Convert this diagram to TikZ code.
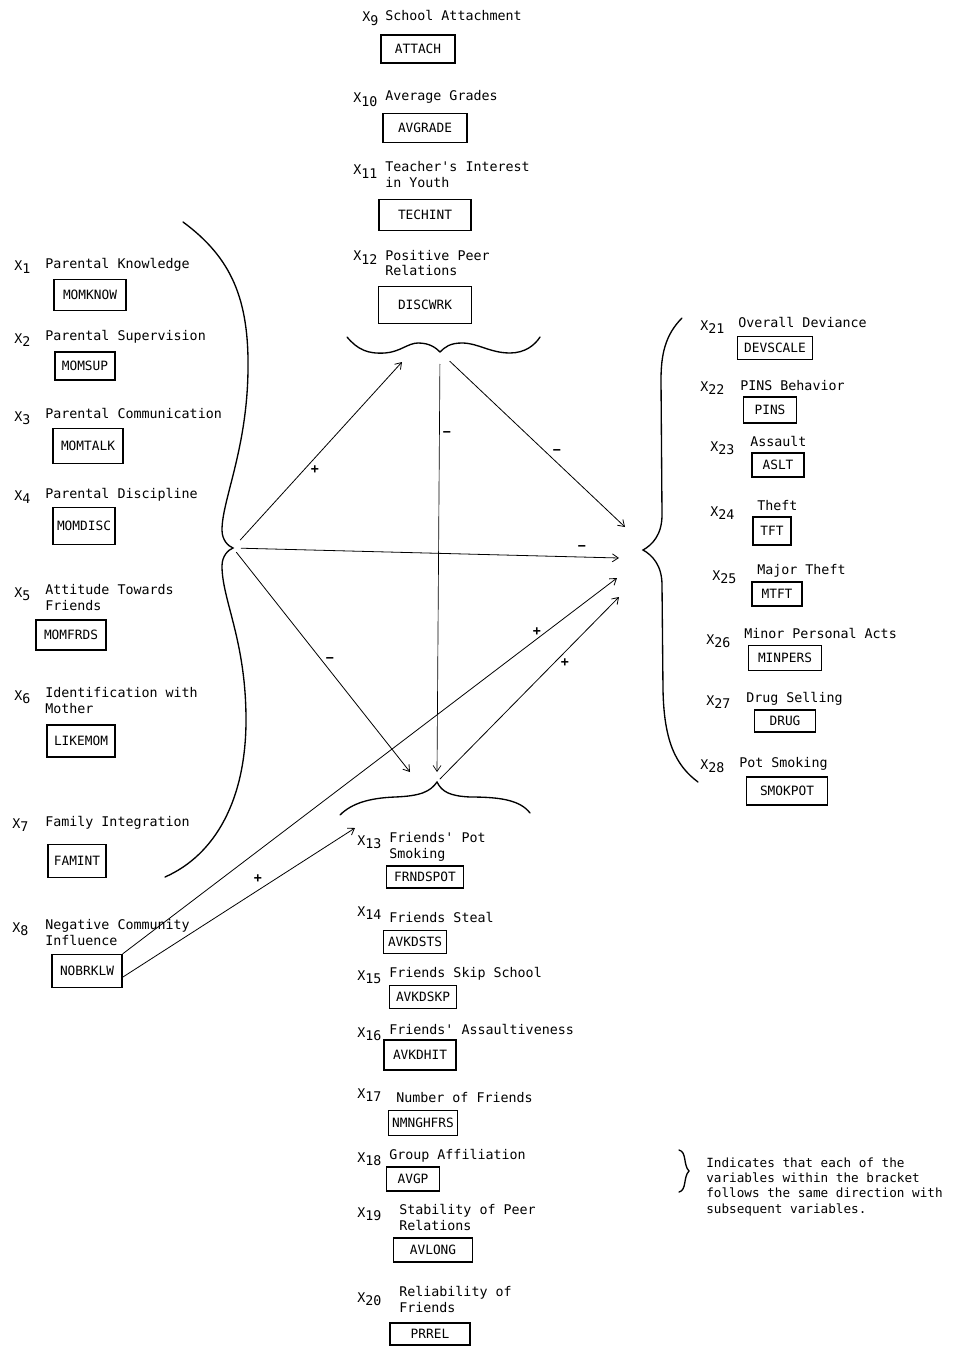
\documentclass[tikz,border=0pt]{standalone}
\usepackage{fontspec}
\setmonofont{DejaVu Sans Mono}
\usetikzlibrary{arrows.meta,calc}

\newcommand{\xsub}[1]{X\raisebox{-2.6pt}{#1}}

\begin{document}
\begin{tikzpicture}[
  x=0.75pt,
  y=-0.75pt,
  >={Straight Barb[length=4.5pt,width=6pt]},
  varlabel/.style={
    anchor=base west,
    inner sep=0pt,
    font=\fontsize{10}{12}\ttfamily
  },
  vartitle/.style={
    anchor=base west,
    inner sep=0pt,
    align=left,
    font=\fontsize{10}{12}\ttfamily
  },
  varbox/.style 2 args={
    draw,
    line width=0.8pt,
    inner sep=0pt,
    minimum width=#1*0.75pt,
    minimum height=#2*0.75pt,
    font=\fontsize{9.6}{10}\ttfamily
  },
  bracestyle/.style={
    line width=1pt,
    line cap=round
  },
  pathline/.style={
    ->,
    line width=0.6pt
  },
  signtag/.style={
    inner sep=0pt,
    font=\fontsize{10}{12}\ttfamily\bfseries
  },
  notetext/.style={
    anchor=base west,
    inner sep=0pt,
    align=left,
    font=\fontsize{9.5}{11.5}\ttfamily
  }
]

\useasboundingbox[fill=white] (0,0) rectangle (954,1348);

% family variables (two-line titles sit on the baseline of their last line)
\node[varlabel] (x1) at (14,270) {\xsub{1}};
\node[vartitle] (t1) at (45,268) {Parental Knowledge};
\node[varbox={72}{31}] (momknow) at (90,295) {MOMKNOW};

\node[varlabel] (x2) at (14,343) {\xsub{2}};
\node[vartitle] (t2) at (45,340) {Parental Supervision};
\node[varbox={60}{28}] (momsup) at (85,366) {MOMSUP};

\node[varlabel] (x3) at (14,421) {\xsub{3}};
\node[vartitle] (t3) at (45,418) {Parental Communication};
\node[varbox={70}{35}] (momtalk) at (88,446) {MOMTALK};

\node[varlabel] (x4) at (14,500) {\xsub{4}};
\node[vartitle] (t4) at (45,498) {Parental Discipline};
\node[varbox={62}{37}] (momdisc) at (84,526) {MOMDISC};

\node[varlabel] (x5) at (14,597) {\xsub{5}};
\node[vartitle] (t5) at (45,610) {Attitude Towards\\Friends};
\node[varbox={70}{30}] (momfrds) at (71,635) {MOMFRDS};

\node[varlabel] (x6) at (14,700) {\xsub{6}};
\node[vartitle] (t6) at (45,713) {Identification with\\Mother};
\node[varbox={68}{32}] (likemom) at (81,741) {LIKEMOM};

\node[varlabel] (x7) at (12,828) {\xsub{7}};
\node[vartitle] (t7) at (45,826) {Family Integration};
\node[varbox={58}{33}] (famint) at (77,861) {FAMINT};

\node[varlabel] (x8) at (12,932) {\xsub{8}};
\node[vartitle] (t8) at (45,945) {Negative Community\\Influence};
\node[varbox={70}{33}] (nobrklw) at (87,971) {NOBRKLW};

% school variables
\node[varlabel] (x9) at (362,22) {\xsub{9}};
\node[vartitle] (t9) at (385,21) {School Attachment};
\node[varbox={74}{28}] (attach) at (418,49) {ATTACH};

\node[varlabel] (x10) at (353,103) {\xsub{10}};
\node[vartitle] (t10) at (385,101) {Average Grades};
\node[varbox={84}{29}] (avgrade) at (425,128) {AVGRADE};

\node[varlabel] (x11) at (353,175) {\xsub{11}};
\node[vartitle] (t11) at (385,188) {Teacher's Interest\\in Youth};
\node[varbox={92}{31}] (techint) at (425,215) {TECHINT};

\node[varlabel] (x12) at (353,261) {\xsub{12}};
\node[vartitle] (t12) at (385,276) {Positive Peer\\Relations};
\node[varbox={93}{37}] (discwrk) at (425,305) {DISCWRK};

% peer variables
\node[varlabel] (x13) at (357,845) {\xsub{13}};
\node[vartitle] (t13) at (389,858) {Friends' Pot\\Smoking};
\node[varbox={77}{22}] (frndspot) at (425,877) {FRNDSPOT};

\node[varlabel] (x14) at (357,916) {\xsub{14}};
\node[vartitle] (t14) at (389,922) {Friends Steal};
\node[varbox={63}{23}] (avkdsts) at (415,942) {AVKDSTS};

\node[varlabel] (x15) at (357,980) {\xsub{15}};
\node[vartitle] (t15) at (389,977) {Friends Skip School};
\node[varbox={67}{23}] (avkdskp) at (423,997) {AVKDSKP};

\node[varlabel] (x16) at (357,1037) {\xsub{16}};
\node[vartitle] (t16) at (389,1034) {Friends' Assaultiveness};
\node[varbox={72}{30}] (avkdhit) at (420,1055) {AVKDHIT};

\node[varlabel] (x17) at (357,1098) {\xsub{17}};
\node[vartitle] (t17) at (396,1102) {Number of Friends};
\node[varbox={69}{25}] (nmnghfrs) at (423,1123) {NMNGHFRS};

\node[varlabel] (x18) at (357,1162) {\xsub{18}};
\node[vartitle] (t18) at (389,1159) {Group Affiliation};
\node[varbox={53}{24}] (avgp) at (413,1179) {AVGP};

\node[varlabel] (x19) at (357,1217) {\xsub{19}};
\node[vartitle] (t19) at (399,1230) {Stability of Peer\\Relations};
\node[varbox={79}{24}] (avlong) at (433,1250) {AVLONG};

\node[varlabel] (x20) at (357,1302) {\xsub{20}};
\node[vartitle] (t20) at (399,1312) {Reliability of\\Friends};
\node[varbox={80}{22}] (prrel) at (430,1334) {PRREL};

% deviance variables
\node[varlabel] (x21) at (700,330) {\xsub{21}};
\node[vartitle] (t21) at (738,327) {Overall Deviance};
\node[varbox={75}{23}] (devscale) at (775,348) {DEVSCALE};

\node[varlabel] (x22) at (700,391) {\xsub{22}};
\node[vartitle] (t22) at (740,390) {PINS Behavior};
\node[varbox={53}{26}] (pins) at (770,410) {PINS};

\node[varlabel] (x23) at (710,451) {\xsub{23}};
\node[vartitle] (t23) at (750,446) {Assault};
\node[varbox={52}{24}] (aslt) at (778,465) {ASLT};

\node[varlabel] (x24) at (710,516) {\xsub{24}};
\node[vartitle] (t24) at (757,510) {Theft};
\node[varbox={38}{28}] (tft) at (772,531) {TFT};

\node[varlabel] (x25) at (712,580) {\xsub{25}};
\node[vartitle] (t25) at (757,574) {Major Theft};
\node[varbox={50}{24}] (mtft) at (777,594) {MTFT};

\node[varlabel] (x26) at (706,644) {\xsub{26}};
\node[vartitle] (t26) at (744,638) {Minor Personal Acts};
\node[varbox={73}{25}] (minpers) at (785,658) {MINPERS};

\node[varlabel] (x27) at (706,705) {\xsub{27}};
\node[vartitle] (t27) at (746,702) {Drug Selling};
\node[varbox={61}{22}] (drug) at (785,721) {DRUG};

\node[varlabel] (x28) at (700,769) {\xsub{28}};
\node[vartitle] (t28) at (739,767) {Pot Smoking};
\node[varbox={81}{28}] (smokpot) at (787,791) {SMOKPOT};

% brackets
\draw[bracestyle] (183,222) .. controls (232,258) and (249,300) .. (248,370)
  .. controls (247,450) and (222,500) .. (222,530)
  .. controls (222,540) and (228,546) .. (233,548)
  .. controls (228,550) and (222,556) .. (222,566)
  .. controls (222,600) and (246,640) .. (246,720)
  .. controls (246,800) and (215,855) .. (165,877);
\draw[bracestyle] (347,337) .. controls (358,350) and (368,354) .. (385,353)
  .. controls (400,352) and (408,343) .. (418,343)
  .. controls (430,343) and (436,348) .. (440,352)
  .. controls (445,347) and (450,343) .. (462,343)
  .. controls (478,343) and (490,353) .. (510,353)
  .. controls (525,353) and (535,345) .. (540,337);
\draw[bracestyle] (340,815) .. controls (352,803) and (370,798) .. (395,797)
  .. controls (420,796) and (430,792) .. (437,782)
  .. controls (442,792) and (450,796) .. (470,797)
  .. controls (500,797) and (520,800) .. (530,813);
\draw[bracestyle] (682,318) .. controls (665,335) and (661,355) .. (661,380)
  -- (662,515) .. controls (662,535) and (652,545) .. (643,550)
  .. controls (652,555) and (662,565) .. (662,585)
  -- (663,690) .. controls (664,740) and (675,765) .. (698,782);

\coordinate (lefttip) at (233,548);
\coordinate (toptip) at (440,352);
\coordinate (bottip) at (437,782);
\coordinate (topin) at (402,362);
\coordinate (botin1) at (410,772);
\coordinate (botin2) at (437,772);
\coordinate (botleft) at (355,828);
\coordinate (rightin1) at (625,527);
\coordinate (rightin2) at (619,558);
\coordinate (rightin3) at (617,578);
\coordinate (rightin4) at (619,597);

% paths between brackets
\draw[pathline,shorten <=8pt] (lefttip) -- (topin);
\draw[pathline,shorten <=6pt] (lefttip) -- (rightin2);
\draw[pathline,shorten <=4pt] (lefttip) -- (botin1);
\draw[pathline,line width=0.5pt,shorten <=9pt] (toptip) -- (botin2);
\draw[pathline,shorten <=10pt] (toptip) -- (rightin1);
\draw[pathline,shorten <=3pt] (bottip) -- (rightin4);
\draw[pathline] (nobrklw.north east) -- (rightin3);
\draw[pathline] (nobrklw.-10) -- (botleft);

\node[signtag] (s1) at (315,470) {+};
\node[signtag] (s2) at (582,548) {−};
\node[signtag] (s3) at (330,660) {−};
\node[signtag] (s4) at (447,434) {−};
\node[signtag] (s5) at (557,452) {−};
\node[signtag] (s6) at (565,663) {+};
\node[signtag] (s7) at (537,632) {+};
\node[signtag] (s8) at (258,879) {+};

% legend
\draw[bracestyle] (679,1150) .. controls (687,1152) and (683,1165) .. (689,1171)
  .. controls (683,1177) and (687,1190) .. (679,1192);
\node[notetext] (note) at (706,1213) {Indicates that each of the\\variables within the bracket\\follows the same direction with\\subsequent variables.};

\end{tikzpicture}
\end{document}
